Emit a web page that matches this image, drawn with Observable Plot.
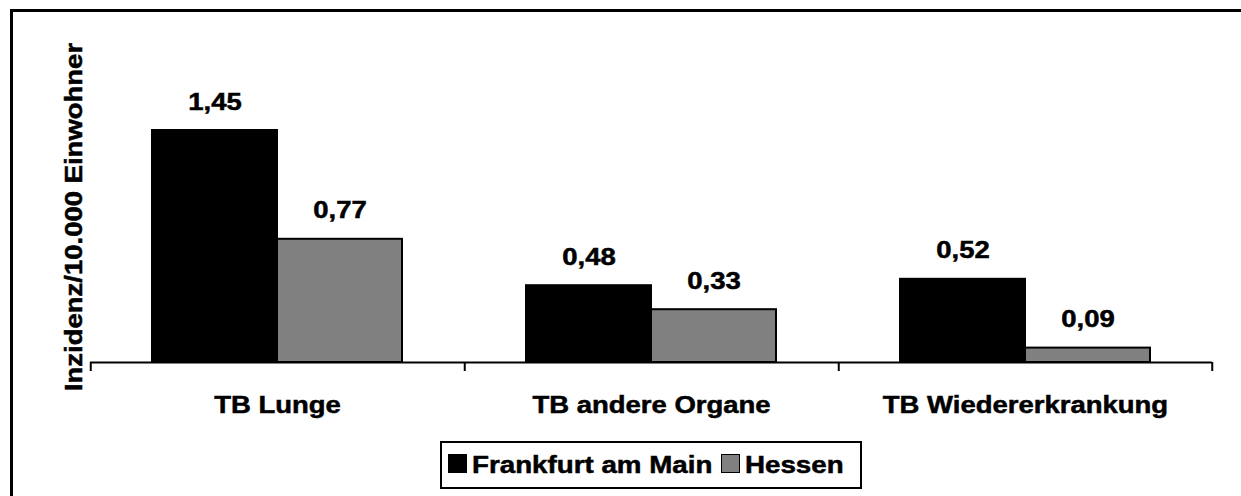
<!DOCTYPE html>
<html><head><meta charset="utf-8">
<script src="https://cdn.jsdelivr.net/npm/d3@7"></script>
<script src="https://cdn.jsdelivr.net/npm/@observablehq/plot@0.6"></script>
<style>
html,body{margin:0;padding:0;background:#fff;width:1241px;height:496px;overflow:hidden;font-family:"Liberation Sans",Arial,sans-serif;}
#frame{position:absolute;left:10px;top:9px;width:1300px;height:600px;border-left:3px solid #000;border-top:3px solid #000;border-right:none;border-bottom:none;}
#chart{position:absolute;left:0;top:0;}
#legend{position:absolute;left:441px;top:441px;width:419px;height:44px;border:2px solid #000;box-sizing:content-box;font-weight:bold;color:#000;white-space:nowrap;background:#fff;}
.sw{position:absolute;top:11px;width:17px;height:17px;border:1px solid #000;}
.lab{position:absolute;top:0;line-height:44px;font-size:23.5px;transform:scaleX(1.18);transform-origin:0 50%;-webkit-text-stroke:0.5px #000;}
</style></head><body>
<div id="frame"></div><div id="chart"></div><div id="legend"></div>
<script>
const categories = ["TB Lunge", "TB andere Organe", "TB Wiedererkrankung"];
const series = ["Frankfurt am Main", "Hessen"];
const frankfurt = [1.45, 0.48, 0.52];
const hessen = [0.77, 0.33, 0.09];
const colors = ["#000000", "#808080"];
const yLabel = "Inzidenz/10.000 Einwohner";

const data = categories.flatMap((c, i) => [
  {category: c, series: series[0], value: frankfurt[i]},
  {category: c, series: series[1], value: hessen[i]}
]);
const fmt = v => v.toFixed(2).replace(".", ",");

const W = 1241, H = 430, ML = 90, MR = 29, MT = 106, MB = 68;
const pad = 0.49;
const facetW = (W - ML - MR) / categories.length;
const step = facetW / (series.length + 2 * pad);
const edgeOffset = step * (pad + 0.5);
const FS = 23.5, SX = 1.17;

const chart = Plot.plot({
  width: W, height: H,
  marginLeft: ML, marginRight: MR, marginTop: MT, marginBottom: MB,
  style: {fontFamily: "'Liberation Sans', Arial, sans-serif", fontWeight: "bold", color: "#000", background: "transparent", overflow: "visible"},
  fx: {domain: categories, padding: 0, axis: null},
  x: {domain: series, paddingInner: 0, paddingOuter: pad, axis: null},
  y: {domain: [0, 1.6], axis: null},
  color: {domain: series, range: colors, legend: false},
  marks: [
    Plot.barY(data, {fx: "category", x: "series", y: "value", fill: "series", stroke: "#000", strokeWidth: 2}),
    Plot.ruleY([0], {stroke: "#000", strokeWidth: 2}),
    Plot.ruleX(categories, {fx: d => d, x: () => series[0], y1: 0, y2: 0, insetBottom: -9, dx: -edgeOffset, stroke: "#000", strokeWidth: 2}),
    Plot.ruleX([categories[categories.length - 1]], {fx: d => d, x: () => series[series.length - 1], y1: 0, y2: 0, insetBottom: -9, dx: edgeOffset, stroke: "#000", strokeWidth: 2}),
    Plot.text(data, {fx: "category", x: "series", y: "value", text: d => fmt(d.value), dy: -21, lineAnchor: "bottom", fontSize: FS, fontWeight: "bold", fill: "#000"}),
    Plot.axisFx({anchor: "bottom", tickSize: 0, tickPadding: 34, fontSize: FS, fontWeight: "bold", label: null}),
    Plot.text([yLabel], {fx: () => categories[0], frameAnchor: "left", textAnchor: "middle", lineAnchor: "middle", text: d => d, rotate: -90, dx: -16, dy: -17.5, fontSize: FS, fontWeight: "bold", fill: "#000"})
  ]
});
document.getElementById("chart").appendChild(chart);

// horizontal glyph stretch and heavier strokes, as in the reference rendering
chart.querySelectorAll("text").forEach(t => {
  const tr = t.getAttribute("transform");
  if (tr) t.setAttribute("transform", tr + ` scale(${SX},1)`);
  t.setAttribute("stroke", "#000");
  t.setAttribute("stroke-width", "0.5");
});

// legend
const legend = document.getElementById("legend");
let lx = 6;
series.forEach((s, i) => {
  const sw = document.createElement("div");
  sw.className = "sw";
  sw.style.left = lx + "px";
  sw.style.background = colors[i];
  legend.appendChild(sw);
  lx += 19 + 5;
  const lab = document.createElement("div");
  lab.className = "lab";
  lab.textContent = s;
  lab.style.left = lx + "px";
  legend.appendChild(lab);
  lx += lab.getBoundingClientRect().width + (i < series.length - 1 ? 9 : 16);
});
legend.style.width = lx + "px";
legend.style.left = Math.round((ML + W - MR) / 2 - (lx + 4) / 2) + "px";
</script>
</body></html>
